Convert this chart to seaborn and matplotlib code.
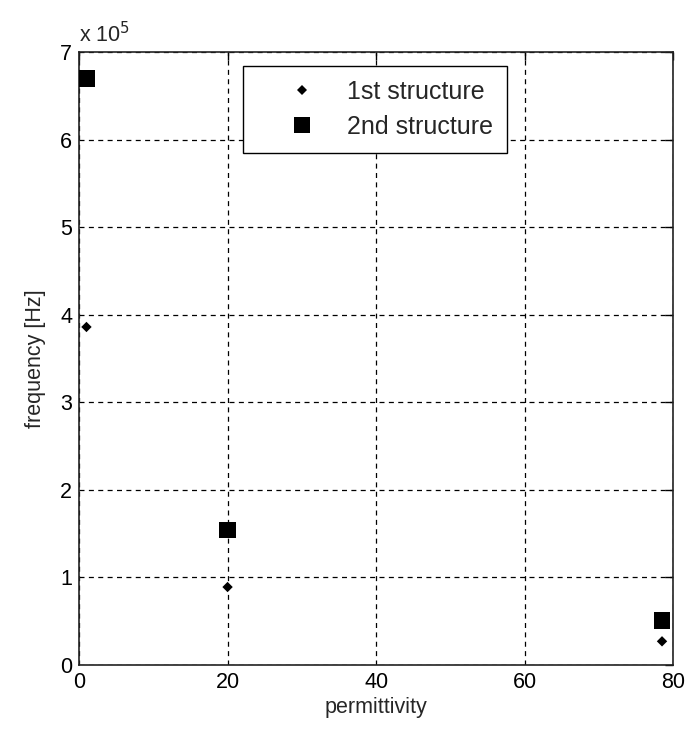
import matplotlib
matplotlib.use("Agg")
import matplotlib.pyplot as plt
import numpy as np
import pandas as pd
import seaborn as sns

# values
permittivity = [1, 20, 78.5]
freq_1st = [3.86e5, 0.89e5, 0.27e5]
freq_2nd = [6.70e5, 1.54e5, 0.51e5]
labels = ["1st structure", "2nd structure"]

df = pd.DataFrame({
    "permittivity": permittivity * 2,
    "frequency": freq_1st + freq_2nd,
    "structure": [labels[0]] * 3 + [labels[1]] * 3,
})

sns.set_style("white")
plt.rcParams["font.family"] = ["Liberation Sans", "DejaVu Sans"]
fs = 15.5

fig = plt.figure(figsize=(6.89, 7.4), dpi=100)
ax = fig.add_axes([0.1147, 0.1014, 0.977 - 0.1147, 0.9297 - 0.1014])

sns.scatterplot(data=df, x="permittivity", y="frequency", style="structure",
                hue="structure", palette=["black", "black"],
                markers={labels[0]: "D", labels[1]: "s"},
                size="structure", sizes={labels[0]: 28, labels[1]: 140},
                linewidth=0, ax=ax, zorder=3)

ax.set_xlim(0, 80)
ax.set_ylim(0, 7e5)
ax.set_xticks([0, 20, 40, 60, 80])
ax.set_yticks(np.arange(0, 8) * 1e5)
ax.set_yticklabels([str(i) for i in range(8)])
ax.text(0.0, 1.008, r"x 10$^5$", transform=ax.transAxes, fontsize=fs,
        ha="left", va="bottom")

ax.grid(True, color="black", linestyle=(0, (4, 3.5)), linewidth=0.9)
ax.tick_params(direction="in", length=6, width=1, colors="black",
               top=True, right=True, labelsize=fs, pad=5)
for s in ax.spines.values():
    s.set_color("#222222")
    s.set_linewidth(1.2)

ax.set_xlabel("permittivity", fontsize=fs, labelpad=3)
ax.set_ylabel("frequency [Hz]", fontsize=fs, labelpad=10)

handles, lbls = ax.get_legend_handles_labels()
leg = ax.legend(handles, lbls, loc="upper left", bbox_to_anchor=(0.276, 0.977),
                fancybox=False, edgecolor="black", framealpha=1,
                fontsize=18, borderpad=0.55, handletextpad=0.0,
                handlelength=3.6, labelspacing=0.45,
                borderaxespad=0, markerscale=1)
leg.get_frame().set_linewidth(1)

fig.savefig("out.png", dpi=100, facecolor="white")
